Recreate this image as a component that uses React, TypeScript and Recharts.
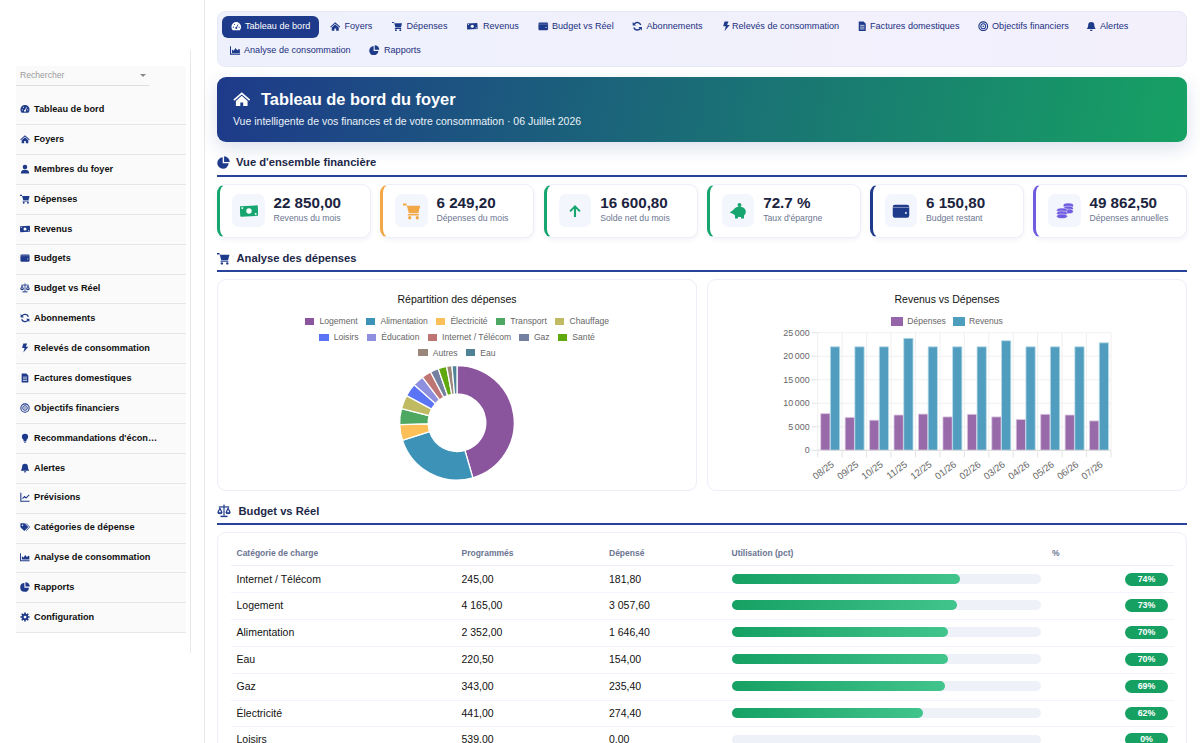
import React from "react";
import { PieChart, Pie, Cell, BarChart, Bar, XAxis, YAxis, CartesianGrid, Legend } from "recharts";

const NAVY = "#1e3a8a";
const FONT = '"Liberation Sans", Arial, sans-serif';

const sideLabels = ["Tableau de bord","Foyers","Membres du foyer","Dépenses","Revenus","Budgets","Budget vs Réel","Abonnements","Relevés de consommation","Factures domestiques","Objectifs financiers","Recommandations d'écon…","Alertes","Prévisions","Catégories de dépense","Analyse de consommation","Rapports","Configuration"];
const sideIcons = ["gauge","home","user","cart","money","wallet","scale","sync","bolt","invoice","target","bulb","bell","line","tags","area","pie","cog"];

const navLabels = ["Tableau de bord","Foyers","Dépenses","Revenus","Budget vs Réel","Abonnements","Relevés de consommation","Factures domestiques","Objectifs financiers","Alertes","Analyse de consommation","Rapports"];
const navIcons = ["gauge","home","cart","money","wallet","sync","bolt","invoice","target","bell","area","pie"];
const navIconX = [231,330,392,467,538,632,721,857,978,1086,230,369];
const navTextX = [245,344.5,406.5,483,552,646.5,732,870,992,1100,244,384];
const navRowY = [26,26,26,26,26,26,26,26,26,26,50,50];

const kpiValues = ["22 850,00","6 249,20","16 600,80","72.7 %","6 150,80","49 862,50"];
const kpiLabels = ["Revenus du mois","Dépenses du mois","Solde net du mois","Taux d'épargne","Budget restant","Dépenses annuelles"];
const kpiColors = ["#16a56f","#f3a847","#16a56f","#16a56f",NAVY,"#6f5be0"];
const kpiIcons = ["money","cart","up","piggy","wallet","coins"];
const kpiX = [217,380,543.7,706.7,869.5,1033];

const pieNames = ["Logement","Alimentation","Électricité","Transport","Chauffage","Loisirs","Éducation","Internet / Télécom","Gaz","Santé","Autres","Eau"];
const pieValues = [3057.6,1646.4,296,302,262,249,208,181.8,155,161,101,94];
const pieColors = ["#8b559e","#3d92b8","#fdbf58","#4ea862","#c0bb63","#5b73f5","#8f8fdf","#c07575","#74809f","#5fa90f","#9a867a","#4f8197"];
const pieData = pieNames.map((name, i) => ({ name, value: pieValues[i] }));
const pieRows = [pieNames.slice(0,5), pieNames.slice(5,10), pieNames.slice(10)];

const months = ["08/25","09/25","10/25","11/25","12/25","01/26","02/26","03/26","04/26","05/26","06/26","07/26"];
const depenses = [7800,7000,6400,7500,7700,7100,7650,7100,6550,7650,7500,6250];
const revenus = [22000,22000,22000,23800,22000,22000,22000,23300,22000,22000,22000,22850];
const barData = months.map((m, i) => ({ m, Dépenses: depenses[i], Revenus: revenus[i] }));
const yTicks = [0,5000,10000,15000,20000,25000];

const rowNames = ["Internet / Télécom","Logement","Alimentation","Eau","Gaz","Électricité","Loisirs"];
const rowPlanned = ["245,00","4 165,00","2 352,00","220,50","343,00","441,00","539,00"];
const rowSpent = ["181,80","3 057,60","1 646,40","154,00","235,40","274,40","0,00"];
const rowPct = [74,73,70,70,69,62,0];
const rowY = [579,605.3,632,659,686,713,739.5];
const rowLines = [591.7,618.5,646,672.5,699.5,726];
const headers = ["Catégorie de charge","Programmés","Dépensé","Utilisation (pct)","%"];
const headerX = [236.5,461.5,609,731.5,1052];

const Icon = ({ name, x, y, size, color }: any) => {
  const c = color;
  const hole = color === "#fff" ? NAVY : "#fff";
  const shapes: Record<string, React.ReactNode> = {
    gauge: <><path d="M4 21a11 11 0 1 1 16 0z" fill={c}/><circle cx="12" cy="16" r="2.4" fill={hole}/><path d="M12 16l4-8" stroke={hole} strokeWidth="2"/><circle cx="5.5" cy="14" r="1.3" fill={hole}/><circle cx="18.5" cy="14" r="1.3" fill={hole}/><circle cx="8" cy="8" r="1.3" fill={hole}/></>,
    home: <><path d="M12 3L0.5 13l1.5 1.8L12 6.2l10 8.6 1.5-1.8z" fill={c}/><path d="M4 15l8-7 8 7v7h-6v-5h-4v5H4z" fill={c}/></>,
    user: <><circle cx="12" cy="7" r="5.5" fill={c}/><path d="M2 23c0-7 4-9 10-9s10 2 10 9z" fill={c}/></>,
    cart: <><path d="M0 2h4.5l.8 3H23l-2.6 10H7.8L5 4.5H0z" fill={c}/><path d="M7 16h14v2H6z" fill={c}/><circle cx="9" cy="21" r="2.2" fill={c}/><circle cx="19" cy="21" r="2.2" fill={c}/></>,
    money: <><rect x="0" y="5" width="24" height="14" rx="1" fill={c} transform="rotate(-3 12 12)"/><circle cx="12" cy="12" r="3.6" fill="#fff"/><rect x="2" y="7" width="2.2" height="2.2" fill="#fff"/><rect x="19.8" y="14.8" width="2.2" height="2.2" fill="#fff"/></>,
    wallet: <><rect x="1" y="3.5" width="22" height="17.5" rx="3" fill={c}/><rect x="1" y="6.6" width="22" height="0.8" fill="#fff" opacity=".7"/><circle cx="18.5" cy="14.5" r="1.3" fill="#fff"/></>,
    scale: <><rect x="11" y="1" width="2" height="19" fill={c}/><rect x="3" y="4" width="18" height="2" fill={c}/><rect x="6" y="20" width="12" height="2.5" fill={c}/><path d="M0.5 14L5 5l4.5 9a4.5 3.5 0 0 1-9 0zM3 14h4L5 9.5zM14.5 14L19 5l4.5 9a4.5 3.5 0 0 1-9 0zM17 14h4l-2-4.5z" fill={c} fillRule="evenodd"/></>,
    sync: <><path d="M20 9A8.5 8.5 0 0 0 5 7" fill="none" stroke={c} strokeWidth="3.2"/><path d="M1.5 2.5l0 8 8 0z" fill={c}/><path d="M4 15a8.5 8.5 0 0 0 15 2" fill="none" stroke={c} strokeWidth="3.2"/><path d="M22.5 21.5l0-8-8 0z" fill={c}/></>,
    bolt: <path d="M8 1h9l-3 8h6L8 23l3-11H5z" fill={c}/>,
    invoice: <><path d="M4 1h11l5 5v17H4z" fill={c}/><path d="M7 10h10M7 14h10M7 18h10" stroke="#fff" strokeWidth="1.6"/></>,
    target: <><circle cx="12" cy="12" r="10" fill="none" stroke={c} strokeWidth="2.6"/><circle cx="12" cy="12" r="5.5" fill="none" stroke={c} strokeWidth="2.4"/><circle cx="12" cy="12" r="1.8" fill={c}/></>,
    bulb: <><circle cx="12" cy="9" r="7.5" fill={c}/><rect x="8.5" y="14" width="7" height="6" fill={c}/><rect x="9.5" y="21" width="5" height="2" fill={c}/></>,
    bell: <><path d="M12 2a7 7 0 0 0-7 7c0 6-3 8-3 9.5h20c0-1.5-3-3.5-3-9.5a7 7 0 0 0-7-7z" fill={c}/><path d="M9 20a3 3 0 0 0 6 0z" fill={c}/></>,
    line: <><path d="M2 2v20h21" fill="none" stroke={c} strokeWidth="2.6"/><path d="M6 16l5-5 3.5 3.5L22 7" fill="none" stroke={c} strokeWidth="2.6"/></>,
    tags: <><path d="M1 3h10l9 9-9.5 9.5L1 12.5z" fill={c}/><circle cx="6" cy="8" r="1.8" fill="#fff"/><path d="M14 3l9 9-8 9" fill="none" stroke={c} strokeWidth="2"/></>,
    area: <><path d="M1 3v18h22" fill="none" stroke={c} strokeWidth="2.6"/><path d="M4.5 18V10l4 3 4-6 4 5 4-3 2 1v8z" fill={c}/></>,
    pie: <><path d="M10.5 2.5a10.5 10.5 0 1 0 11 11h-11z" fill={c}/><path d="M13 0.5a10.5 10.5 0 0 1 10.5 10.5H13z" fill={c}/></>,
    cog: <><circle cx="12" cy="12" r="8" fill={c}/><path d="M12 1v22M1 12h22M4.2 4.2l15.6 15.6M19.800 4.200L4.200 19.800" stroke={c} strokeWidth="4"/><circle cx="12" cy="12" r="3.3" fill="#fff"/></>,
    up: <><path d="M12 4l7.5 7.5-1.9 1.9L13.4 9v11h-2.800V9l-4.200 4.400L4.500 11.500z" fill={c}/></>,
    piggy: <><ellipse cx="14" cy="13" rx="8.500" ry="7" fill={c}/><rect x="8" y="17.500" width="4" height="4.500" fill={c}/><rect x="16" y="17.500" width="4" height="4.500" fill={c}/><path d="M1 14l7-5v8z" fill={c}/><circle cx="14" cy="4" r="2.600" fill={c}/></>,
    coins: <><ellipse cx="16.500" cy="4.500" rx="6.500" ry="3" fill={c}/><ellipse cx="16.500" cy="8.500" rx="6.500" ry="3" fill={c} stroke="#f3f6fc" strokeWidth=".7"/><ellipse cx="16.500" cy="12.500" rx="6.500" ry="3" fill={c} stroke="#f3f6fc" strokeWidth=".7"/><ellipse cx="8" cy="11" rx="7" ry="3" fill={c} stroke="#f3f6fc" strokeWidth=".7"/><ellipse cx="8" cy="15" rx="7" ry="3" fill={c} stroke="#f3f6fc" strokeWidth=".7"/><ellipse cx="8" cy="19" rx="7" ry="3" fill={c} stroke="#f3f6fc" strokeWidth=".7"/></>,
  };
  return (
    <svg viewBox="0 0 24 24" width={size} height={size} style={{ position: "absolute", left: x, top: y - size / 2 }}>
      {shapes[name]}
    </svg>
  );
};

const T = ({ x, y, size, color = "#111", bold = false, children, center }: any) => (
  <div style={{
    position: "absolute", top: y - size, height: size * 2, lineHeight: `${size * 2}px`, left: center ? x - 200 : x,
    width: center ? 400 : undefined, textAlign: center ? "center" : undefined,
    fontSize: size, color, fontWeight: bold ? 700 : 400, whiteSpace: "nowrap", fontFamily: FONT,
  }}>{children}</div>
);

const Box = ({ x, y, w, h, style }: any) => (
  <div style={{ position: "absolute", left: x, top: y, width: w, height: h, boxSizing: "border-box", ...style }} />
);

const SectionHead = ({ icon, label, iconX = 217, textX, y, lineY, iconSize = 13 }: any) => (
  <>
    <Icon name={icon} x={iconX} y={y} size={iconSize} color={NAVY} />
    <T x={textX} y={y} size={11.2} bold color="#1c2748">{label}</T>
    <Box x={217} y={lineY} w={970} h={1.7} style={{ background: "#27449a" }} />
  </>
);

const PLOT = { left: 110.7, top: 53.7, width: 293.3, height: 117.6 };
const BAND = PLOT.width / 12;

const MonthTick = ({ x, y, payload, index }: any) => (
  <g>
    <line x1={x - BAND / 2} x2={x - BAND / 2} y1={y - 7} y2={y - 1} stroke="#e2e2e2" strokeWidth={1} />
    {index === 11 && <line x1={x + BAND / 2} x2={x + BAND / 2} y1={y - 7} y2={y - 1} stroke="#e2e2e2" strokeWidth={1} />}
    <text x={x + 3} y={y + 8} textAnchor="end" fontSize={9.5} fontFamily={FONT} fill="#666"
      transform={`rotate(-37 ${x + 3} ${y + 5})`}>{payload.value}</text>
  </g>
);

const fmtTick = (v: number) => (v >= 1000 ? `${Math.floor(v / 1000)}\u202f${String(v % 1000).padStart(3, "0")}` : String(v));

const PieLegend = () => (
  <div style={{ position: "absolute", left: 0, top: 0, width: 480 }}>
    {pieRows.map((row, r) => (
      <div key={r} style={{ position: "absolute", top: 34.3 + r * 15.7, left: 0, width: 480, display: "flex", justifyContent: "center", height: 16, alignItems: "center", gap: 8.2, fontFamily: FONT, fontSize: 8.6, color: "#666" }}>
        {row.map((n) => (
          <span key={n} style={{ display: "flex", alignItems: "center" }}>
            <i style={{ display: "inline-block", width: 9.5, height: 7, marginRight: 5, background: pieColors[pieNames.indexOf(n)] }} />
            {n}
          </span>
        ))}
      </div>
    ))}
  </div>
);

const BarLegend = () => (
  <div style={{ position: "absolute", left: 0, top: 34.3, width: 480, display: "flex", justifyContent: "center", height: 16, alignItems: "center", gap: 7, fontFamily: FONT, fontSize: 8.6, color: "#666" }}>
    {[["Dépenses", "#9664a8"], ["Revenus", "#4d9dbd"]].map(([n, c]) => (
      <span key={n} style={{ display: "flex", alignItems: "center" }}>
        <i style={{ display: "inline-block", width: 11.7, height: 9.3, marginRight: 4.4, background: c }} />
        {n}
      </span>
    ))}
  </div>
);

const legendWrap = { position: "absolute", left: 0, top: 0, width: 480, margin: 0 } as any;

export default function App() {
  return (
    <div style={{ position: "fixed", left: 0, top: 0, width: 1200, height: 743, overflow: "hidden", background: "#fff", fontFamily: FONT }}>
      {/* sidebar */}
      <Box x={190} y={50} w={1} h={603} style={{ background: "#e8e8e8" }} />
      <Box x={204} y={0} w={1} h={743} style={{ background: "#e8e8e8" }} />
      <Box x={16} y={66} w={170} h={567} style={{ background: "#fafafa" }} />
      <Box x={16} y={85} w={133} h={1} style={{ background: "#dedede" }} />
      <T x={20} y={75.8} size={8.6} color="#9a9a9a">Rechercher</T>
      <div style={{ position: "absolute", left: 139.5, top: 74, width: 0, height: 0, borderLeft: "3px solid transparent", borderRight: "3px solid transparent", borderTop: "3.5px solid #888" }} />
      {sideLabels.map((l, i) => {
        const y = 109 + i * 29.88;
        return (
          <React.Fragment key={l}>
            <Icon name={sideIcons[i]} x={20} y={y} size={10} color={NAVY} />
            <T x={34} y={y + 0.2} size={9.2} bold color="#111">{l}</T>
            <Box x={16} y={y + 15.2} w={170} h={1} style={{ background: "#e6e6e6" }} />
          </React.Fragment>
        );
      })}

      {/* nav */}
      <Box x={217} y={11} w={970} h={56} style={{ background: "linear-gradient(90deg,#eef1fc,#f3f0fc)", borderRadius: 8, border: "1px solid #e7e9f7" }} />
      <Box x={222} y={16} w={96.5} h={22} style={{ background: NAVY, borderRadius: 6 }} />
      {navLabels.map((l, i) => (
        <React.Fragment key={l}>
          <Icon name={navIcons[i]} x={navIconX[i]} y={navRowY[i]} size={10.5} color={i === 0 ? "#fff" : NAVY} />
          <T x={navTextX[i]} y={navRowY[i] + 0.3} size={9.1} color={i === 0 ? "#fff" : "#1b2f7e"}>{l}</T>
        </React.Fragment>
      ))}

      {/* hero */}
      <Box x={217} y={77} w={970} h={65} style={{ background: "linear-gradient(100deg,#1e3a8a,#16a163)", borderRadius: 9, boxShadow: "0 6px 18px rgba(30,58,138,.16)" }} />
      <Icon name="home" x={233} y={99} size={17.5} color="#fff" />
      <T x={261} y={99.5} size={16.4} bold color="#fff">Tableau de bord du foyer</T>
      <T x={233} y={121.5} size={10.5} color="#eaf2f7">Vue intelligente de vos finances et de votre consommation · 06 Juillet 2026</T>

      <SectionHead icon="pie" label="Vue d'ensemble financière" textX={236} y={162.5} lineY={175} />

      {/* KPI cards */}
      {kpiValues.map((v, i) => (
        <React.Fragment key={i}>
          <Box x={kpiX[i]} y={184} w={154} h={54} style={{ background: "#fff", borderRadius: 9, border: "1px solid #eceef8", borderLeft: `3.5px solid ${kpiColors[i]}`, boxShadow: "0 2px 5px rgba(30,58,138,.06)" }} />
          <Box x={kpiX[i] + 15.3} y={194.3} w={32.4} h={32.4} style={{ background: "#f3f6fc", borderRadius: 7 }} />
          <Icon name={kpiIcons[i]} x={kpiX[i] + 22.5} y={210.5} size={18} color={kpiColors[i]} />
          <T x={kpiX[i] + 56.5} y={203} size={15.2} bold color="#1c2440">{v}</T>
          <T x={kpiX[i] + 56.5} y={218.5} size={8.7} color="#6b7690">{kpiLabels[i]}</T>
        </React.Fragment>
      ))}

      <SectionHead icon="cart" label="Analyse des dépenses" textX={236.5} y={258} lineY={270} />

      {/* pie card */}
      <Box x={217} y={279} w={480} h={211.5} style={{ borderRadius: 9, border: "1px solid #eceef8" }} />
      <div style={{ position: "absolute", left: 217, top: 279 }}>
        <T x={240} y={20} size={10.5} center color="#111">Répartition des dépenses</T>
        <PieChart width={480} height={211} margin={{ top: 0, right: 0, bottom: 0, left: 0 }}>
          <Legend verticalAlign="middle" layout="horizontal" wrapperStyle={legendWrap} content={() => <PieLegend />} />
          <Pie data={pieData} dataKey="value" nameKey="name" cx={240} cy={143.8} outerRadius={57.3} innerRadius={28.8}
            startAngle={90} endAngle={-270} stroke="#fff" strokeWidth={1.3} isAnimationActive={false}>
            {pieNames.map((n, i) => <Cell key={n} fill={pieColors[i]} />)}
          </Pie>
        </PieChart>
      </div>

      {/* bar card */}
      <Box x={707} y={279} w={480} h={211.5} style={{ borderRadius: 9, border: "1px solid #eceef8" }} />
      <div style={{ position: "absolute", left: 707, top: 279 }}>
        <T x={240} y={20} size={10.5} center color="#111">Revenus vs Dépenses</T>
        <BarChart width={480} height={211} data={barData} barSize={9.3} barGap={0.4} barCategoryGap={0}
          margin={{ top: PLOT.top, right: 480 - PLOT.left - PLOT.width, bottom: 211 - PLOT.top - PLOT.height - 36, left: PLOT.left - 40 }}>
          <Legend verticalAlign="middle" layout="horizontal" wrapperStyle={legendWrap} content={() => <BarLegend />} />
          <CartesianGrid stroke="#f0f0f0" strokeWidth={1}
            verticalCoordinatesGenerator={({ offset }: any) => months.concat("").map((_, i) => offset.left + (i * offset.width) / months.length)} />
          <XAxis dataKey="m" interval={0} height={36} tick={<MonthTick />} tickLine={false} axisLine={{ stroke: "#dddddd" }} />
          <YAxis width={40} domain={[0, 25000]} ticks={yTicks} tickFormatter={fmtTick} tickSize={6} tickMargin={2}
            tickLine={{ stroke: "#e2e2e2" }} axisLine={false}
            tick={{ fontSize: 8.9, fontFamily: FONT, fill: "#666" }} />
          <Bar dataKey="Dépenses" fill="#8b559e" fillOpacity={0.88} stroke="#dcc9e3" strokeWidth={0.8} isAnimationActive={false} />
          <Bar dataKey="Revenus" fill="#3d92b8" fillOpacity={0.9} stroke="#bcdde9" strokeWidth={0.8} isAnimationActive={false} />
        </BarChart>
      </div>

      <SectionHead icon="scale" label="Budget vs Réel" textX={238.5} y={511} lineY={523} iconSize={14} />

      {/* table */}
      <Box x={217} y={532} w={970} h={260} style={{ borderRadius: 9, border: "1px solid #eceef8" }} />
      {headers.map((h, i) => <T key={h} x={headerX[i]} y={553.7} size={8.5} bold color="#6b7592">{h}</T>)}
      <Box x={231} y={564.8} w={943} h={1.5} style={{ background: "#eceefa" }} />
      {rowLines.map((y) => <Box key={y} x={231} y={y} w={943} h={1} style={{ background: "#f3f4fb" }} />)}
      {rowNames.map((n, i) => (
        <React.Fragment key={n}>
          <T x={236.5} y={rowY[i]} size={10.5} color="#111">{n}</T>
          <T x={461.5} y={rowY[i]} size={10.5} color="#111">{rowPlanned[i]}</T>
          <T x={609} y={rowY[i]} size={10.5} color="#111">{rowSpent[i]}</T>
          <Box x={731.5} y={rowY[i] - 5} w={309} h={10} style={{ background: "#eef1f8", borderRadius: 5 }} />
          {rowPct[i] > 0 && <Box x={731.5} y={rowY[i] - 5} w={(309 * rowPct[i]) / 100} h={10} style={{ background: "linear-gradient(90deg,#16a163,#42c48d)", borderRadius: 5 }} />}
          <Box x={1125} y={rowY[i] - 6.5} w={43} h={13} style={{ background: "#16a163", borderRadius: 7 }} />
          <div style={{ position: "absolute", left: 1125, width: 43, top: rowY[i] - 6.5, height: 13, lineHeight: "13px", textAlign: "center", color: "#fff", fontWeight: 700, fontSize: 8.8, fontFamily: FONT }}>{rowPct[i]}%</div>
        </React.Fragment>
      ))}
    </div>
  );
}
